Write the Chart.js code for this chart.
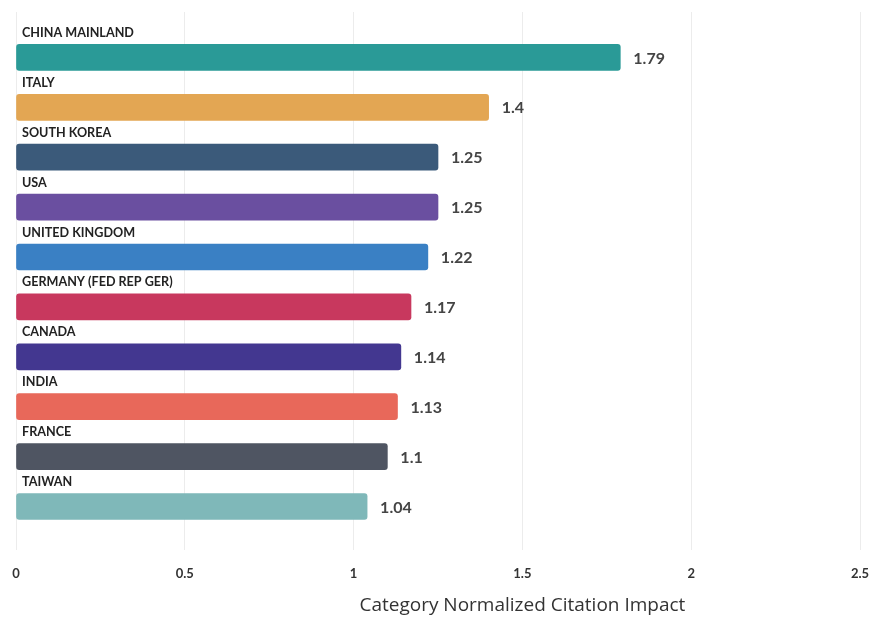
<!DOCTYPE html>
<html>
<head>
<meta charset="utf-8">
<script src="https://cdn.jsdelivr.net/npm/chart.js@4/dist/chart.umd.min.js"></script>
<style>
  html, body { margin: 0; padding: 0; background: #ffffff; }
  #wrap { position: relative; width: 873px; height: 618px; }
</style>
</head>
<body>
<div id="wrap"><canvas id="cnci" width="873" height="618"></canvas></div>
<script>
// Countries / regions, ranked by Category Normalized Citation Impact
const countries = [
  'CHINA MAINLAND', 'ITALY', 'SOUTH KOREA', 'USA', 'UNITED KINGDOM',
  'GERMANY (FED REP GER)', 'CANADA', 'INDIA', 'FRANCE', 'TAIWAN'
];
const cnciValues = [1.79, 1.4, 1.25, 1.25, 1.22, 1.17, 1.14, 1.13, 1.1, 1.04];
const barColors = [
  '#2a9a97', '#e3a653', '#3b5a7a', '#6a4fa0', '#3a80c4',
  '#c8385e', '#433790', '#e8685a', '#4f5562', '#7fb8b9'
];
const xTicks = [0, 0.5, 1, 1.5, 2, 2.5];
const axisTitle = 'Category Normalized Citation Impact';

// Category labels above each bar, values to the right, axis title below
const annotate = {
  id: 'annotate',
  afterDatasetsDraw(chart) {
    const ctx = chart.ctx;
    const meta = chart.getDatasetMeta(0);
    ctx.save();
    meta.data.forEach((bar, i) => {
      // country name above the bar
      ctx.font = 'bold 12.6px Lato';
      ctx.fillStyle = '#222222';
      ctx.textAlign = 'left';
      ctx.textBaseline = 'middle';
      ctx.fillText(countries[i], chart.chartArea.left + 6, bar.y - 24.5);
      // value right of the bar
      ctx.font = 'bold 16px Lato';
      ctx.fillStyle = '#444444';
      ctx.fillText(String(cnciValues[i]), bar.x + 13, bar.y + 1);
    });
    const xs = chart.scales.x;
    ctx.font = '19px "Open Sans"';
    ctx.fillStyle = '#333333';
    ctx.textAlign = 'center';
    ctx.textBaseline = 'middle';
    ctx.fillText(axisTitle, xs.getPixelForValue(1.5), 606);
    ctx.restore();
  }
};

new Chart(document.getElementById('cnci'), {
  type: 'bar',
  data: {
    datasets: [{
      data: cnciValues.map((v, i) => ({ x: v, y: i })),
      backgroundColor: barColors,
      borderWidth: 0,
      borderRadius: 3,
      borderSkipped: false,
      barThickness: 26
    }]
  },
  options: {
    indexAxis: 'y',
    responsive: false,
    animation: false,
    layout: { padding: { left: 16, right: 13, top: 12, bottom: 20 } },
    plugins: {
      legend: { display: false },
      tooltip: { enabled: false }
    },
    scales: {
      x: {
        type: 'linear',
        min: 0,
        max: 2.5,
        afterBuildTicks(scale) { scale.ticks = xTicks.map(v => ({ value: v })); },
        afterFit(scale) { scale.paddingLeft = 0; scale.paddingRight = 0; },
        grid: { color: '#ececec', lineWidth: 1, drawTicks: false },
        border: { display: false },
        ticks: {
          padding: 16,
          color: '#333333',
          font: { family: 'Lato', size: 13, weight: 'bold' },
          callback: v => String(v)
        }
      },
      y: {
        type: 'linear',
        reverse: true,
        offset: false,
        grace: 0,
        min: -0.91,
        max: 9.88,
        display: false
      }
    }
  },
  plugins: [annotate]
});
</script>
</body>
</html>
